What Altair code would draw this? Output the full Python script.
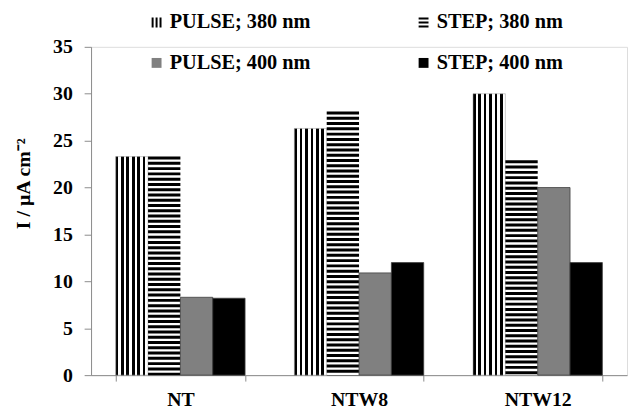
import altair as alt
import pandas as pd

categories = ["NT", "NTW8", "NTW12"]
series = ["PULSE; 380 nm", "STEP; 380 nm", "PULSE; 400 nm", "STEP; 400 nm"]
pulse380 = [23.3, 26.3, 30.0]
step380 = [23.3, 28.1, 22.9]
pulse400 = [8.3, 10.9, 20.0]
step400 = [8.2, 12.0, 12.0]
y_ticks = [0, 5, 10, 15, 20, 25, 30, 35]

rows = []
for s, vals in zip(series, [pulse380, step380, pulse400, step400]):
    for c, v in zip(categories, vals):
        rows.append({"cat": c, "series": s, "value": v})
df = pd.DataFrame(rows)

FONT = "Liberation Serif"
FS = 20
GRAY = "#8c8c8c"

n = 6
stops = []
for i in range(n):
    stops += [
        alt.GradientStop(offset=i / n, color="black"),
        alt.GradientStop(offset=(i + 0.5) / n, color="black"),
        alt.GradientStop(offset=(i + 0.5) / n, color="white"),
        alt.GradientStop(offset=(i + 1) / n, color="white"),
    ]
vgrad = alt.Gradient(gradient="linear", stops=stops, x1=0, x2=1, y1=0, y2=0)

x_enc = alt.X(
    "cat:N",
    sort=categories,
    scale=alt.Scale(domain=categories, paddingInner=0.276, paddingOuter=0.138),
    axis=alt.Axis(
        title=None, labelAngle=0, tickBand="extent", labelFont=FONT,
        labelFontSize=FS, labelFontWeight="bold", labelColor="black",
        domainColor=GRAY, tickColor=GRAY, tickSize=6, labelPadding=9,
    ),
)
xo_enc = alt.XOffset("series:N", sort=series, scale=alt.Scale(domain=series, paddingInner=0, paddingOuter=0))
y_enc = alt.Y(
    "value:Q",
    scale=alt.Scale(domain=[0, 35], nice=False),
    axis=alt.Axis(
        title="I / µA cm⁻²", values=y_ticks, grid=False, labelFont=FONT,
        labelFontSize=FS, labelFontWeight="bold", labelColor="black",
        domainColor=GRAY, tickColor=GRAY, tickSize=7, labelPadding=12,
        titleFont=FONT, titleFontSize=FS, titleFontWeight="bold", titleColor="black",
        titleX=-58, titleY=138,
    ),
)

base = alt.Chart(df).encode(x=x_enc, xOffset=xo_enc)

bars_p380 = base.transform_filter(alt.datum.series == series[0]).mark_bar(
    fill=vgrad, stroke="#999999", strokeWidth=0.5
).encode(y=y_enc)

rule_s380 = base.transform_filter(alt.datum.series == series[1]).mark_rule(
    color="black", strokeWidth=32.7, strokeDash=[3, 2.33], strokeCap="butt"
).encode(y=y_enc, y2=alt.datum(0))

bars_400 = base.transform_filter(
    (alt.datum.series == series[2]) | (alt.datum.series == series[3])
).mark_bar(stroke="#404040", strokeWidth=0.8).encode(
    y=y_enc,
    fill=alt.condition(alt.datum.series == series[2], alt.value("#808080"), alt.value("black")),
)

paths = [
    "M-1,-1h0.4v2h-0.4z M-0.2,-1h0.4v2h-0.4z M0.6,-1h0.4v2h-0.4z",
    "M-1,-1h2v0.4h-2z M-1,-0.2h2v0.4h-2z M-1,0.6h2v0.4h-2z",
    "M-1,-1h2v2h-2z",
    "M-1,-1h2v2h-2z",
]
leg = dict(
    title=None, orient="none", legendX=56, legendY=-35, columns=2,
    direction="horizontal",
    columnPadding=104, rowPadding=20, labelFont=FONT, labelFontSize=20.5,
    labelFontWeight="bold", labelColor="black", symbolSize=100,
    symbolStrokeWidth=0, symbolOpacity=1, labelOffset=3, padding=0,
)
legend_layer = base.mark_point(filled=True, opacity=0).encode(
    y=y_enc,
    shape=alt.Shape("series:N", sort=series, scale=alt.Scale(domain=series, range=paths), legend=alt.Legend(**leg)),
    fill=alt.Fill("series:N", sort=series, scale=alt.Scale(domain=series, range=["black", "black", "#808080", "black"]), legend=alt.Legend(**leg)),
)

chart = alt.layer(bars_p380, rule_s380, bars_400, legend_layer).properties(
    width=542, height=332,
    autosize=alt.AutoSizeParams(type="none"),
    padding={"left": 84, "top": 37, "right": 2, "bottom": 35},
).configure_view(stroke=None).configure(font=FONT)

chart.save("out.html", embed_options={"renderer": "svg", "actions": False})
